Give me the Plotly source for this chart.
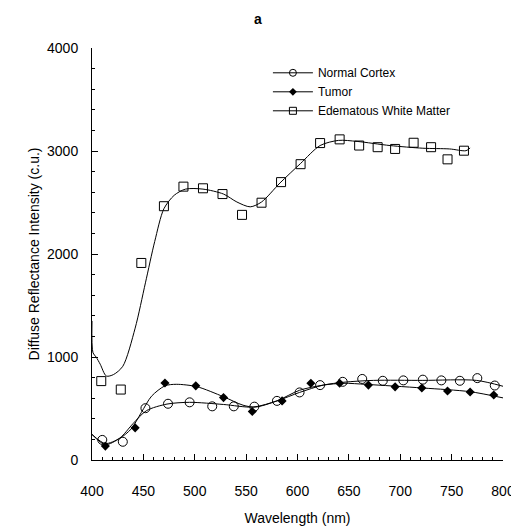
import plotly.graph_objects as go

# ---- Marker data ----
nc_x = [410, 430, 452, 474, 495, 517, 538, 558, 580, 602, 622, 644, 663, 683, 703, 722, 740, 758, 775, 792]
nc_y = [195, 177, 503, 546, 560, 521, 521, 518, 574, 656, 727, 759, 787, 769, 773, 780, 773, 769, 795, 723]

tu_x = [413, 442, 471, 501, 528, 556, 585, 613, 641, 669, 695, 721, 746, 768, 791]
tu_y = [135, 312, 748, 720, 606, 471, 574, 745, 745, 727, 710, 699, 670, 660, 631]

wm_x = [409, 428, 448, 470, 489, 508, 527, 546, 565, 584, 603, 622, 641, 660, 678, 695, 713, 730, 746, 762]
wm_y = [766, 684, 1913, 2464, 2654, 2638, 2582, 2380, 2498, 2698, 2872, 3077, 3113, 3053, 3037, 3020, 3080, 3037, 2919, 3003]

# ---- Fitted curve samples ----
nc_cx = [400, 413, 427, 440, 453, 473, 495, 528, 557, 580, 602, 625, 645, 674, 722, 774, 800]
nc_cy = [248, 160, 213, 354, 479, 543, 560, 539, 514, 574, 656, 727, 755, 773, 773, 773, 716]

tu_cx = [400, 413, 427, 438, 448, 458, 471, 482, 502, 528, 547, 559, 580, 602, 625, 645, 667, 722, 768, 800]
tu_cy = [248, 149, 210, 300, 461, 620, 720, 735, 712, 614, 532, 514, 574, 677, 727, 745, 734, 699, 663, 603]

wm_cx = [400, 401, 404, 408, 414, 421, 430, 442, 452, 461, 470, 480, 491, 508, 528, 541, 554, 565, 583, 603, 622, 640, 658, 690, 722, 748, 764, 768]
wm_cy = [1350, 1040, 1000, 930, 815, 830, 910, 1280, 1720, 2120, 2440, 2570, 2630, 2630, 2582, 2505, 2458, 2505, 2690, 2879, 3053, 3103, 3093, 3053, 3027, 3020, 3003, 3030]

names = ["Normal Cortex", "Tumor", "Edematous White Matter"]
x_ticks = [400, 450, 500, 550, 600, 650, 700, 750, 800]
y_ticks = [0, 1000, 2000, 3000, 4000]

BLACK = "black"
FONT = "Liberation Sans, Arial, sans-serif"

fig = go.Figure()

line_style = dict(color=BLACK, width=1, shape="spline", smoothing=0.8)

for cx, cy in [(nc_cx, nc_cy), (tu_cx, tu_cy), (wm_cx, wm_cy)]:
    fig.add_trace(go.Scatter(x=cx, y=cy, mode="lines", line=line_style,
                             showlegend=False, hoverinfo="skip"))

mk_nc = dict(symbol="circle-open", size=9, color=BLACK, line=dict(width=1, color=BLACK))
mk_tu = dict(symbol="diamond", size=7, color=BLACK, line=dict(width=0))
mk_wm = dict(symbol="square-open", size=9, color=BLACK, line=dict(width=1, color=BLACK))

fig.add_trace(go.Scatter(x=nc_x, y=nc_y, mode="markers", marker=mk_nc, showlegend=False))
fig.add_trace(go.Scatter(x=tu_x, y=tu_y, mode="markers", marker=mk_tu, showlegend=False))
fig.add_trace(go.Scatter(x=wm_x, y=wm_y, mode="markers", marker=mk_wm, showlegend=False))

# legend entries (line + marker), smaller markers as in the legend of the original
lg_nc = dict(mk_nc, size=7)
lg_tu = dict(mk_tu, size=6)
lg_wm = dict(mk_wm, size=7)
for name, mk in zip(names, [lg_nc, lg_tu, lg_wm]):
    fig.add_trace(go.Scatter(x=[None], y=[None], mode="lines+markers", name=name,
                             marker=mk, line=dict(color=BLACK, width=1)))

# the page adds an 8px body margin, compensated in the figure margins
fig.update_layout(
    width=519, height=526,
    paper_bgcolor="white", plot_bgcolor="white",
    margin=dict(l=84, r=24, t=40, b=74, autoexpand=False),
    font=dict(family=FONT, size=14, color=BLACK),
    title=dict(text="<b>a</b>", x=250 / 519, xref="container", xanchor="center",
               y=1 - 11 / 526, yref="container", yanchor="middle",
               font=dict(size=14, family=FONT)),
    showlegend=True,
    legend=dict(x=0.428, y=0.975, xanchor="left", yanchor="top",
                bgcolor="rgba(0,0,0,0)", font=dict(size=12, family=FONT),
                tracegroupgap=0, itemwidth=40),
)

fig.update_xaxes(
    range=[400, 800], tickvals=x_ticks, ticktext=[str(v) for v in x_ticks],
    showline=True, linecolor=BLACK, linewidth=1, mirror=False,
    ticks="inside", ticklen=6, tickcolor=BLACK, tickwidth=1,
    minor=dict(dtick=10, ticks="inside", ticklen=3, tickcolor=BLACK, tickwidth=1),
    showgrid=False, zeroline=False, automargin=False,
    ticklabelstandoff=18,
    title=dict(text="Wavelength (nm)", standoff=15, font=dict(size=14)),
    tickfont=dict(size=14),
)
fig.update_yaxes(
    range=[0, 4000], tickvals=y_ticks, ticktext=[str(v) for v in y_ticks],
    showline=True, linecolor=BLACK, linewidth=1, mirror=False,
    ticks="inside", ticklen=6, tickcolor=BLACK, tickwidth=1,
    minor=dict(dtick=200, ticks="inside", ticklen=3, tickcolor=BLACK, tickwidth=1),
    showgrid=False, zeroline=False, automargin=False,
    ticklabelstandoff=10,
    title=dict(text="Diffuse Reflectance Intensity (c.u.)", standoff=4, font=dict(size=14)),
    tickfont=dict(size=14),
)

fig.write_html("out.html")
